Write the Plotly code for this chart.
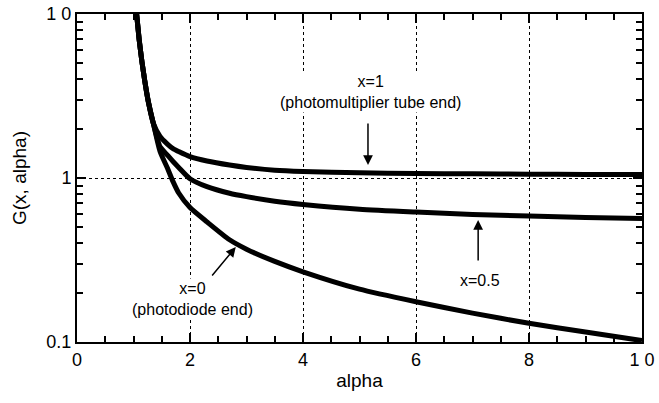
import plotly.graph_objects as go

# ---- data ----
alpha_shared = [1.055, 1.1, 1.15, 1.2, 1.26, 1.35]
g_shared = [10.0, 7.0, 5.1, 3.9, 2.95, 2.16]

alpha_tail = [1.47, 1.6, 1.7, 1.8, 2.0, 2.3, 2.7, 3.0, 3.5, 4.0, 5.0, 6.0, 7.0, 8.0, 9.0, 10.0]
g_x1 = [1.79, 1.61, 1.51, 1.45, 1.35, 1.27, 1.20, 1.16, 1.115, 1.095, 1.075, 1.065, 1.06, 1.055, 1.05, 1.05]
g_x05 = [1.55, 1.38, 1.26, 1.16, 0.99, 0.885, 0.807, 0.77, 0.722, 0.69, 0.645, 0.62, 0.60, 0.586, 0.575, 0.567]
g_x0 = [1.45, 1.15, 0.95, 0.81, 0.66, 0.54, 0.42, 0.368, 0.31, 0.268, 0.21, 0.176, 0.15, 0.13, 0.115, 0.102]

x_tickvals = [0, 2, 4, 6, 8, 10]
x_ticktext = ["0", "2", "4", "6", "8", "1 0"]
y_tickvals = [0.1, 1, 10]
y_ticktext = ["0.1", "1", "1 0"]
y_minor = [0.2, 0.3, 0.4, 0.5, 0.6, 0.7, 0.8, 0.9, 2, 3, 4, 5, 6, 7, 8, 9]

FONT = "Liberation Sans, Arial, Helvetica, sans-serif"

fig = go.Figure()
for g in (g_x1, g_x05, g_x0):
    fig.add_trace(go.Scatter(
        x=alpha_shared + alpha_tail, y=g_shared + g,
        mode="lines", line=dict(color="black", width=5, shape="spline", smoothing=0.6),
        showlegend=False, hoverinfo="skip"))

annos = []
afont = dict(size=16, family=FONT, color="black")
annos.append(dict(x=5.19, y=0.527, xref="x", yref="y", text="x=1<br>(photomultiplier tube end)",
                  showarrow=False, bgcolor="white", font=afont))
annos.append(dict(x=7.13, y=-0.622, xref="x", yref="y", text="x=0.5",
                  showarrow=False, bgcolor="white", font=afont))
annos.append(dict(x=2.04, y=-0.738, xref="x", yref="y", text="x=0<br>(photodiode end)",
                  showarrow=False, bgcolor="white", font=afont))
for (hx, hy, tx, ty) in [(5.15, 0.079, 5.15, 0.341),
                         (7.1, -0.256, 7.1, -0.512),
                         (2.81, -0.421, 2.37, -0.604)]:
    annos.append(dict(x=hx, y=hy, ax=tx, ay=ty, xref="x", yref="y", axref="x", ayref="y",
                      text="", showarrow=True, arrowhead=2, arrowsize=1.3, arrowwidth=1.5,
                      arrowcolor="black", standoff=0, startstandoff=0))

fig.update_layout(
    width=659, height=403,
    margin=dict(l=77, r=17, t=14, b=61, autoexpand=False),
    paper_bgcolor="white", plot_bgcolor="white",
    font=dict(family=FONT, size=18, color="black"),
    annotations=annos,
    xaxis=dict(range=[0, 10], tickvals=x_tickvals, ticktext=x_ticktext, automargin=False,
               showline=True, linecolor="black", linewidth=2, mirror="ticks",
               ticks="inside", ticklen=9, tickwidth=2, tickcolor="black",
               showgrid=True, gridcolor="black", griddash="dot", gridwidth=1,
               zeroline=False,
               minor=dict(dtick=0.5, ticks="inside", ticklen=6, tickwidth=1.5, tickcolor="black", showgrid=False),
               title=dict(text="alpha", font=dict(size=19, family=FONT), standoff=5),
               tickfont=dict(size=18, family=FONT)),
    yaxis=dict(type="log", range=[-1, 1], tickvals=y_tickvals, ticktext=y_ticktext, automargin=False,
               showline=True, linecolor="black", linewidth=2, mirror="ticks",
               ticks="inside", ticklen=9, tickwidth=2, tickcolor="black",
               showgrid=True, gridcolor="black", griddash="dot", gridwidth=1,
               zeroline=False,
               minor=dict(tickvals=y_minor, ticks="inside", ticklen=6, tickwidth=1.5, tickcolor="black", showgrid=False),
               title=dict(text="G(x, alpha)", font=dict(size=19, family=FONT)),
               tickfont=dict(size=18, family=FONT)),
)

fig.write_html("out.html", config={"displayModeBar": False},
               post_script="document.body.style.margin='0';document.body.style.overflow='hidden';")
